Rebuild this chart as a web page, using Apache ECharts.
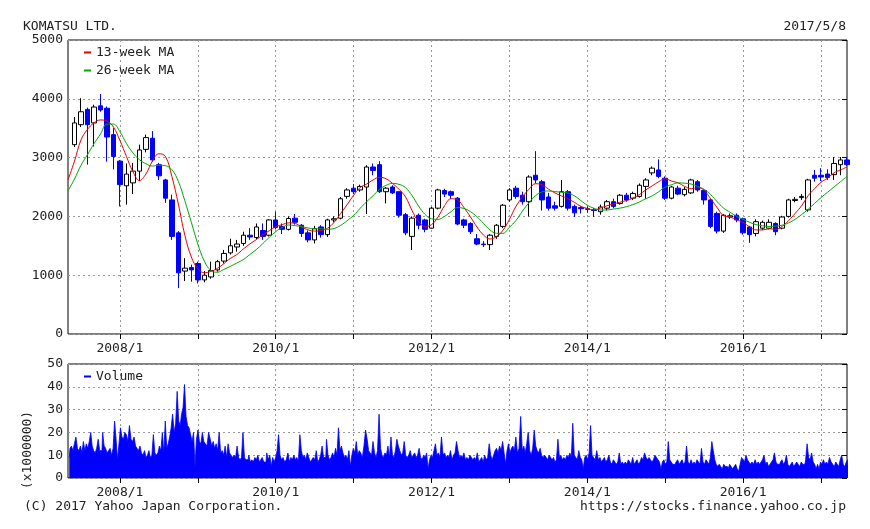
<!DOCTYPE html>
<html><head><meta charset="utf-8">
<script src="https://cdn.jsdelivr.net/npm/echarts@6/dist/echarts.min.js"></script>
<style>html,body{margin:0;padding:0;background:#fff}#c{width:870px;height:529px}</style>
</head><body><div id="c"></div>
<script>
// ---------- DATA ----------
const titleText = 'KOMATSU LTD.';
const dateText = '2017/5/8';
const copyrightText = '(C) 2017 Yahoo Japan Corporation.';
const urlText = 'https://stocks.finance.yahoo.co.jp';
const priceTicks = [0, 1000, 2000, 3000, 4000, 5000];
const volumeTicks = [0, 10, 20, 30, 40, 50];
const yearTicks = ['2008/1','2009/1','2010/1','2011/1','2012/1','2013/1','2014/1','2015/1','2016/1','2017/1'];
const yearLabels = ['2008/1','2010/1','2012/1','2014/1','2016/1'];
const axisStart = '2007/5/1';
const axisEnd = '2017/5/1';

// monthly candles [open, close, high, low]
const ohlc2007 = [ // from 2007/6
  [3220,3590,3690,3180],[3560,3780,4010,3520],[3820,3560,3850,2880],[3590,3860,3900,3190],
  [3880,3810,4080,3780],[3840,3350,3870,2930],[3390,3020,3500,2800]];
const ohlc2008 = [
  [2940,2540,2960,2170],[2520,2720,2900,2200],[2570,2770,2910,2380],[2770,3130,3220,2600],
  [3140,3340,3390,3090],[3330,2960,3450,2930],[2880,2690,2910,2620],[2620,2310,2640,2230],
  [2280,1660,2370,1600],[1720,1040,1750,780],[1070,1120,1290,900],[1130,1090,1180,890]];
const ohlc2009 = [
  [1200,920,1230,860],[920,1000,1070,880],[970,1080,1230,940],[1090,1230,1260,1060],
  [1240,1370,1430,1200],[1380,1500,1620,1350],[1480,1530,1600,1400],[1540,1680,1740,1500],
  [1680,1650,1800,1600],[1640,1820,1880,1610],[1760,1660,1880,1600],[1680,1940,1950,1660]];
const ohlc2010 = [
  [1940,1810,2080,1780],[1830,1780,1880,1700],[1780,1965,2000,1760],[1970,1900,2040,1860],
  [1850,1710,1870,1650],[1720,1600,1760,1560],[1600,1790,1840,1540],[1820,1690,1850,1640],
  [1690,1940,1960,1650],[1940,1960,2000,1900],[1970,2300,2330,1950],[2340,2450,2480,2300]];
const ohlc2011 = [
  [2480,2420,2550,2380],[2450,2510,2540,2420],[2500,2840,2870,2040],[2840,2780,2900,2700],
  [2880,2420,2940,2400],[2420,2480,2500,2220],[2500,2400,2530,2380],[2420,2020,2430,1980],
  [2030,1720,2060,1680],[1660,1970,2000,1430],[2020,1850,2050,1780],[1940,1780,1960,1730]];
const ohlc2012 = [
  [1800,2140,2160,1790],[2140,2450,2470,2120],[2440,2380,2470,2330],[2420,2360,2440,2300],
  [2310,1870,2330,1850],[1940,1850,1960,1800],[1880,1740,1900,1700],[1620,1530,1700,1510],
  [1530,1520,1580,1480],[1520,1680,1700,1430],[1660,1850,1870,1620],[1830,2190,2210,1800]];
const ohlc2013 = [
  [2280,2450,2480,2250],[2480,2340,2520,2300],[2360,2250,2420,2200],[2250,2670,2700,2000],
  [2700,2620,3110,2560],[2590,2280,2620,2100],[2330,2140,2400,2100],[2180,2140,2250,2100],
  [2170,2420,2620,2150],[2420,2140,2450,2100],[2170,2060,2200,1990],[2150,2130,2170,2050]];
const ohlc2014 = [
  [2130,2120,2170,2060],[2110,2100,2140,1990],[2080,2160,2200,2030],[2140,2250,2280,2100],
  [2250,2170,2300,2140],[2220,2360,2380,2200],[2360,2280,2400,2250],[2310,2390,2420,2280],
  [2340,2530,2560,2320],[2510,2620,2650,2300],[2740,2820,2850,2700],[2790,2680,2970,2650]];
const ohlc2015 = [
  [2650,2310,2680,2280],[2310,2500,2520,2290],[2480,2380,2520,2360],[2370,2460,2500,2340],
  [2400,2620,2640,2380],[2590,2450,2620,2420],[2440,2280,2460,2200],[2280,1830,2300,1800],
  [2050,1750,2080,1710],[1750,2020,2040,1720],[1990,2010,2050,1960],[2020,1940,2050,1900]];
const ohlc2016 = [
  [1960,1720,1980,1690],[1820,1690,1840,1550],[1710,1910,1950,1660],[1800,1900,1930,1770],
  [1800,1900,1950,1780],[1880,1740,1900,1680],[1800,1990,2010,1780],[2000,2280,2300,1980],
  [2270,2290,2330,2240],[2320,2340,2380,2280],[2110,2620,2640,2080],[2700,2650,2790,2590]];
const ohlc2017 = [
  [2700,2670,2820,2600],[2720,2660,2800,2620],[2710,2900,3010,2620],[2880,2960,3010,2700],
  [2960,2880,3000,2860]];
const candleYears = [[2007,6,ohlc2007],[2008,1,ohlc2008],[2009,1,ohlc2009],[2010,1,ohlc2010],
  [2011,1,ohlc2011],[2012,1,ohlc2012],[2013,1,ohlc2013],[2014,1,ohlc2014],[2015,1,ohlc2015],
  [2016,1,ohlc2016],[2017,1,ohlc2017]];

// moving averages, sampled at the start of each month from 2007/5 to 2017/5
const maStart = '2007/5';
const ma13 = [
  2620,2940,3300,3480,3590,3640,3620,3520,3290,3020,2760,2610,
  2720,2940,3065,3020,2680,2210,1680,1310,1110,1040,1065,1115,
  1195,1285,1350,1445,1530,1605,1685,1757,1825,1860,1890,1880,
  1820,1770,1750,1760,1800,1900,2050,2200,2360,2490,2550,2620,
  2665,2640,2560,2460,2330,2100,1910,1830,1860,1990,2180,2300,
  2280,2150,1990,1820,1684,1616,1655,1765,1950,2170,2330,2460,
  2555,2540,2465,2400,2350,2300,2240,2170,2135,2110,2140,2180,
  2210,2240,2270,2310,2370,2450,2520,2590,2640,2600,2570,2510,
  2470,2490,2440,2300,2150,2010,1990,1940,1900,1820,1770,1770,
  1790,1780,1830,1930,2050,2180,2350,2470,2580,2650,2740,2790,
  2840];
const ma26 = [
  2435,2635,2870,3050,3235,3400,3570,3570,3440,3240,3080,2965,
  2895,2856,2870,2862,2795,2595,2265,1900,1530,1240,1080,1050,
  1098,1150,1207,1265,1350,1435,1536,1644,1740,1814,1854,1843,
  1825,1803,1790,1790,1780,1795,1847,1926,2017,2136,2250,2352,
  2460,2528,2562,2545,2488,2352,2176,2034,1960,1950,2000,2080,
  2150,2135,2080,1993,1882,1770,1712,1712,1815,1930,2090,2230,
  2350,2415,2432,2422,2410,2397,2350,2270,2190,2140,2110,2109,
  2125,2140,2165,2200,2245,2300,2350,2420,2500,2540,2570,2565,
  2550,2510,2460,2370,2250,2140,2070,2000,1950,1900,1860,1840,
  1830,1835,1850,1890,1950,2030,2120,2220,2320,2410,2500,2590,
  2680];

// weekly volume (x1000000), consecutive weeks from 2007/5/7
const volStart = '2007-05-07';
const vol2007 = [9,13,14,12,15,18,13,12,14, 11,16,12,15, 13,16,20,14,12, 11,13,17,12, 12,20,14,13, 11,12,13,10, 13,25,17,8];
const vol2008 = [15,22,18,17,20, 19,16,23,17, 16,18,14,13, 12,14,11,10,12, 9,10,12,9, 10,19,11,10, 11,14,12,20,11, 25,13,15,18, 22,28,20,24, 38,25,23,28,31, 41,27,23,22, 19,16,20,5];
const vol2009 = [17,21,16,15, 20,16,15,14, 20,17,14,16,13, 15,12,20,11, 12,10,14,9, 15,11,10,9,10, 9,14,9,8, 9,20,9,8, 8,10,7,8,7, 9,8,10,7,8, 9,7,7,11, 8,10,5,9];
const vol2010 = [7,9,12,19, 10,8,9,7, 8,11,7,9,8, 10,8,9,7, 19,12,9,10, 8,11,9,7,8, 9,8,12,7, 8,10,14,9, 9,17,10,8,9, 11,9,13,10, 22,12,14,11, 9,10,8,12,5];
const vol2011 = [10,13,11,16, 10,12,11,9, 14,21,17,12,11, 10,16,11,9, 12,28,13,10, 9,11,10,14,9, 18,10,9,12, 17,14,12,10, 11,16,10,9,10, 12,9,10,11,9, 10,13,9,8, 10,9,11,4];
const vol2012 = [8,10,9,12, 15,10,11,9, 18,10,11,9,10, 9,12,8,10, 11,16,12,9, 10,9,11,8,9, 8,10,9,8, 9,8,11,7, 8,9,7,10,8, 9,15,10,8, 10,12,13,11, 14,12,16,11,6];
const vol2013 = [12,15,11,13, 14,12,18,11, 13,27,12,14,11, 15,20,12,10, 13,21,14,12, 11,13,10,9,10, 9,8,10,9, 8,9,7,8, 17,9,10,8,9, 8,10,9,11,9, 24,10,9,8, 12,9,8,4];
const vol2014 = [9,10,8,11, 23,10,9,8, 12,8,9,7,8, 9,7,8,10, 7,6,8,7, 6,7,11,6,7, 6,7,6,8, 7,6,9,6, 7,8,6,7,9, 8,11,9,8, 9,8,7,8, 10,9,8,7,4];
const vol2015 = [7,8,6,7, 16,8,7,6, 6,7,8,6,7, 8,6,7,14, 7,6,8,6, 7,6,8,7,6, 13,7,6,8, 7,6,9,16, 12,8,6,5,6, 5,4,6,5,5, 4,6,5,4, 5,6,4,3];
const vol2016 = [6,9,8,7, 10,8,7,6, 7,6,8,6,7, 6,7,8,10, 6,7,5,6, 7,8,11,7,6, 6,7,8,6, 7,10,6,5, 6,7,5,6,7, 6,5,7,6,6, 8,15,9,8, 11,7,6,4];
const vol2017 = [6,4,7,6,8,6,7,6,9,7,6,5,7,6,5,8,10,6,5,7,8];
const volumeYears = [vol2007,vol2008,vol2009,vol2010,vol2011,vol2012,vol2013,vol2014,vol2015,vol2016,vol2017];

// ---------- BUILD ----------
const FONT = '"DejaVu Sans Mono", "Liberation Mono", monospace';
const TXT = '#222';
const BLUE = '#0000ff';

function monthIndex(y, mo, d) {
  const dim = new Date(Date.UTC(y, mo, 0)).getUTCDate();
  return (y - 2007) * 12 + (mo - 1) + (d - 1) / dim;
}
function parseYM(s) { const p = s.split('/').map(Number); return monthIndex(p[0], p[1], p[2] || 1); }
function fmtMonth(v) {
  const y = 2007 + Math.floor(v / 12);
  const mo = Math.round(v - (y - 2007) * 12) + 1;
  return y + '/' + mo;
}

const candles = [];
candleYears.forEach(([y, m0, arr]) => arr.forEach((q, i) => {
  candles.push([monthIndex(y, m0 + i, 1), q[0], q[1], q[3], q[2]]);
}));
const ma0 = parseYM(maStart);
const ma13Data = ma13.map((v, i) => [ma0 + i, v]);
const ma26Data = ma26.map((v, i) => [ma0 + i, v]);

const volData = [];
const v0 = Date.parse(volStart + 'T00:00:00Z');
let wk = 0;
volumeYears.forEach(arr => arr.forEach(v => {
  const d = new Date(v0 + wk * 7 * 86400000);
  volData.push([monthIndex(d.getUTCFullYear(), d.getUTCMonth() + 1, d.getUTCDate()), v]);
  wk++;
}));

const xMin = parseYM(axisStart), xMax = parseYM(axisEnd);
const tickVals = yearTicks.map(parseYM);
const labelVals = yearLabels.map(parseYM);

const dotted = { color: '#9a9a9a', type: [2, 3], width: 1 };
const labelStyle = { fontFamily: FONT, fontSize: 13, color: TXT };

function xAxes(gridIndex) {
  return [{
    gridIndex, type: 'value', min: xMin, max: xMax, position: 'bottom',
    axisLine: { show: false },
    axisTick: { show: false, customValues: tickVals },
    axisLabel: Object.assign({ customValues: labelVals, formatter: fmtMonth, margin: 8 }, labelStyle),
    splitLine: { show: true, lineStyle: dotted }
  }, {
    gridIndex, type: 'value', min: xMin, max: xMax, position: 'top',
    axisLine: { show: false },
    axisTick: { show: true, inside: true, length: 5, customValues: tickVals, lineStyle: { color: '#000' } },
    axisLabel: { show: false }, splitLine: { show: false }
  }];
}
function yAxes(gridIndex, ticks) {
  const mn = ticks[0], mx = ticks[ticks.length - 1], iv = ticks[1] - ticks[0];
  return [{
    gridIndex, type: 'value', min: mn, max: mx, interval: iv, position: 'left',
    axisLine: { show: false }, axisTick: { show: false },
    axisLabel: Object.assign({ margin: 5, formatter: v => String(v) }, labelStyle),
    splitLine: { show: true, lineStyle: dotted }
  }, {
    gridIndex, type: 'value', min: mn, max: mx, interval: iv, position: 'right',
    axisLine: { show: false },
    axisTick: { show: true, inside: true, length: 5, lineStyle: { color: '#000' } },
    axisLabel: { show: false }, splitLine: { show: false }
  }];
}

const option = {
  animation: false,
  backgroundColor: '#fff',
  grid: [
    { left: 68, right: 23, top: 40, height: 294, show: true, borderColor: '#000', borderWidth: 1, backgroundColor: 'transparent' },
    { left: 68, right: 23, top: 364, height: 114, show: true, borderColor: '#000', borderWidth: 1, backgroundColor: 'transparent' }
  ],
  xAxis: xAxes(0).concat(xAxes(1)),
  yAxis: yAxes(0, priceTicks).concat(yAxes(1, volumeTicks)),
  legend: [
    { data: ['13-week MA', '26-week MA'], orient: 'vertical', left: 84, top: 46, padding: 0,
      itemWidth: 7, itemHeight: 2, itemGap: 5, icon: 'rect', selectedMode: false,
      textStyle: { fontFamily: FONT, fontSize: 13, color: TXT } },
    { data: ['Volume'], orient: 'vertical', left: 84, top: 370, padding: 0,
      itemWidth: 7, itemHeight: 2, icon: 'rect', selectedMode: false,
      textStyle: { fontFamily: FONT, fontSize: 13, color: TXT } }
  ],
  graphic: [
    { type: 'text', x: 23, y: 27, style: { text: titleText, font: '13px ' + FONT, fill: TXT, align: 'left', verticalAlign: 'middle', textAlign: 'left', textVerticalAlign: 'middle' } },
    { type: 'text', x: 846, y: 27, style: { text: dateText, font: '13px ' + FONT, fill: TXT, align: 'right', verticalAlign: 'middle', textAlign: 'right', textVerticalAlign: 'middle' } },
    { type: 'text', x: 24, y: 507, style: { text: copyrightText, font: '13px ' + FONT, fill: TXT, align: 'left', verticalAlign: 'middle', textAlign: 'left', textVerticalAlign: 'middle' } },
    { type: 'text', x: 846, y: 507, style: { text: urlText, font: '13px ' + FONT, fill: TXT, align: 'right', verticalAlign: 'middle', textAlign: 'right', textVerticalAlign: 'middle' } },
    { type: 'text', x: 28, y: 450, rotation: Math.PI / 2, style: { text: '(x1000000)', font: '13px ' + FONT, fill: TXT, align: 'center', verticalAlign: 'middle', textAlign: 'center', textVerticalAlign: 'middle' } }
  ],
  series: [
    { name: 'Volume', type: 'line', step: 'middle', xAxisIndex: 2, yAxisIndex: 2, data: volData,
      showSymbol: false, color: BLUE, lineStyle: { width: 0.8, color: BLUE },
      areaStyle: { color: BLUE, opacity: 1 }, clip: true },
    { name: 'Candles', type: 'candlestick', xAxisIndex: 0, yAxisIndex: 0, data: candles, barWidth: 5,
      encode: { x: 0, y: [1, 2, 3, 4] }, clip: true,
      itemStyle: { color: '#ffffff', color0: BLUE, borderColor: '#000000', borderColor0: BLUE, borderWidth: 1 } },
    { name: '13-week MA', type: 'line', xAxisIndex: 0, yAxisIndex: 0, data: ma13Data, showSymbol: false,
      smooth: 0.4, color: '#e60000', lineStyle: { width: 1, color: '#e60000' }, clip: true, z: 3 },
    { name: '26-week MA', type: 'line', xAxisIndex: 0, yAxisIndex: 0, data: ma26Data, showSymbol: false,
      smooth: 0.4, color: '#00a800', lineStyle: { width: 1, color: '#00a800' }, clip: true, z: 3 }
  ]
};
const chart = echarts.init(document.getElementById('c'));
chart.setOption(option);
</script>
</body></html>
